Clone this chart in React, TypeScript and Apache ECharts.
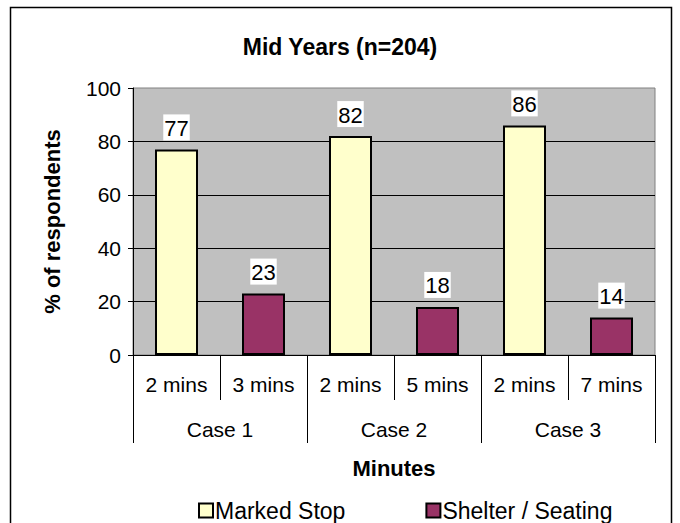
import React, { useEffect, useRef } from "react";
import * as echarts from "echarts";

const minuteLabels = ["2 mins", "3 mins", "2 mins", "5 mins", "2 mins", "7 mins"];
const caseLabels = ["Case 1", "Case 2", "Case 3"];
const markedStop = [77, "-", 82, "-", 86, "-"];
const shelterSeating = ["-", 23, "-", 18, "-", 14];
const yTicks = { min: 0, max: 100, interval: 20 };

const FONT = "'Liberation Sans', Arial, sans-serif";

export default function App() {
  const ref = useRef<HTMLDivElement>(null);

  useEffect(() => {
    if (!ref.current) return;
    const chart = echarts.init(ref.current, undefined, { renderer: "svg" });

    const label = {
      show: true,
      position: "top" as const,
      distance: 9,
      color: "#000",
      fontSize: 22,
      fontFamily: FONT,
      backgroundColor: "#fff",
      padding: [3, 1, 1, 1],
    };

    chart.setOption({
      animation: false,
      backgroundColor: "#fff",
      textStyle: { fontFamily: FONT },
      title: {
        text: "Mid Years (n=204)",
        left: "center",
        top: 30,
        textStyle: { fontSize: 23, fontWeight: "bold", color: "#000", fontFamily: FONT },
      },
      grid: {
        left: 133,
        right: 25,
        top: 88,
        bottom: 168,
        show: true,
        backgroundColor: "#C0C0C0",
        borderColor: "#808080",
        borderWidth: 1,
      },
      legend: {
        bottom: 0,
        left: 193,
        padding: [0, 5, 1, 5],
        itemWidth: 14,
        itemHeight: 14,
        itemGap: 80,
        icon: "rect",
        textStyle: { fontSize: 23, color: "#000", fontFamily: FONT, padding: [0, 0, 0, -3] },
        data: ["Marked Stop", "Shelter / Seating"],
      },
      xAxis: [
        {
          type: "category",
          data: minuteLabels,
          position: "bottom",
          axisLine: { show: true, lineStyle: { color: "#000", width: 1 } },
          axisTick: { show: true, length: 45, lineStyle: { color: "#000" } },
          axisLabel: { color: "#000", fontSize: 21, margin: 19, fontFamily: FONT },
        },
        {
          type: "category",
          data: caseLabels,
          position: "bottom",
          offset: 45,
          axisLine: { show: false },
          axisTick: { show: true, length: 43, lineStyle: { color: "#000" } },
          axisLabel: { color: "#000", fontSize: 21, margin: 19, fontFamily: FONT },
          name: "Minutes",
          nameLocation: "middle",
          nameGap: 57,
          nameTextStyle: { fontSize: 22, fontWeight: "bold", color: "#000", fontFamily: FONT },
        },
      ],
      yAxis: {
        type: "value",
        min: yTicks.min,
        max: yTicks.max,
        interval: yTicks.interval,
        name: "% of respondents",
        nameLocation: "middle",
        nameGap: 70,
        nameTextStyle: { fontSize: 22, fontWeight: "bold", color: "#000", fontFamily: FONT },
        axisLine: { show: true, lineStyle: { color: "#000" } },
        axisTick: { show: true, length: 5, lineStyle: { color: "#000" } },
        axisLabel: { color: "#000", fontSize: 21, margin: 12, fontFamily: FONT },
        splitLine: { show: true, showMaxLine: false, lineStyle: { color: "#000", width: 1 } },
      },
      series: [
        {
          name: "Marked Stop",
          type: "bar",
          xAxisIndex: 0,
          data: markedStop,
          barWidth: 43,
          barGap: "-100%",
          itemStyle: { color: "#FFFFCC", borderColor: "#000", borderWidth: 2 },
          label,
        },
        {
          name: "Shelter / Seating",
          type: "bar",
          xAxisIndex: 0,
          data: shelterSeating,
          barWidth: 43,
          barGap: "-100%",
          itemStyle: { color: "#993366", borderColor: "#000", borderWidth: 2 },
          label,
        },
      ],
      graphic: [
        {
          type: "rect",
          shape: { x: 10.5, y: 7.5, width: 661, height: 540 },
          style: { fill: "none", stroke: "#000", lineWidth: 1.5 },
          silent: true,
        },
      ],
    });

    return () => chart.dispose();
  }, []);

  return (
    <div
      ref={ref}
      style={{ position: "fixed", left: 0, top: 0, width: 680, height: 523 }}
    />
  );
}
